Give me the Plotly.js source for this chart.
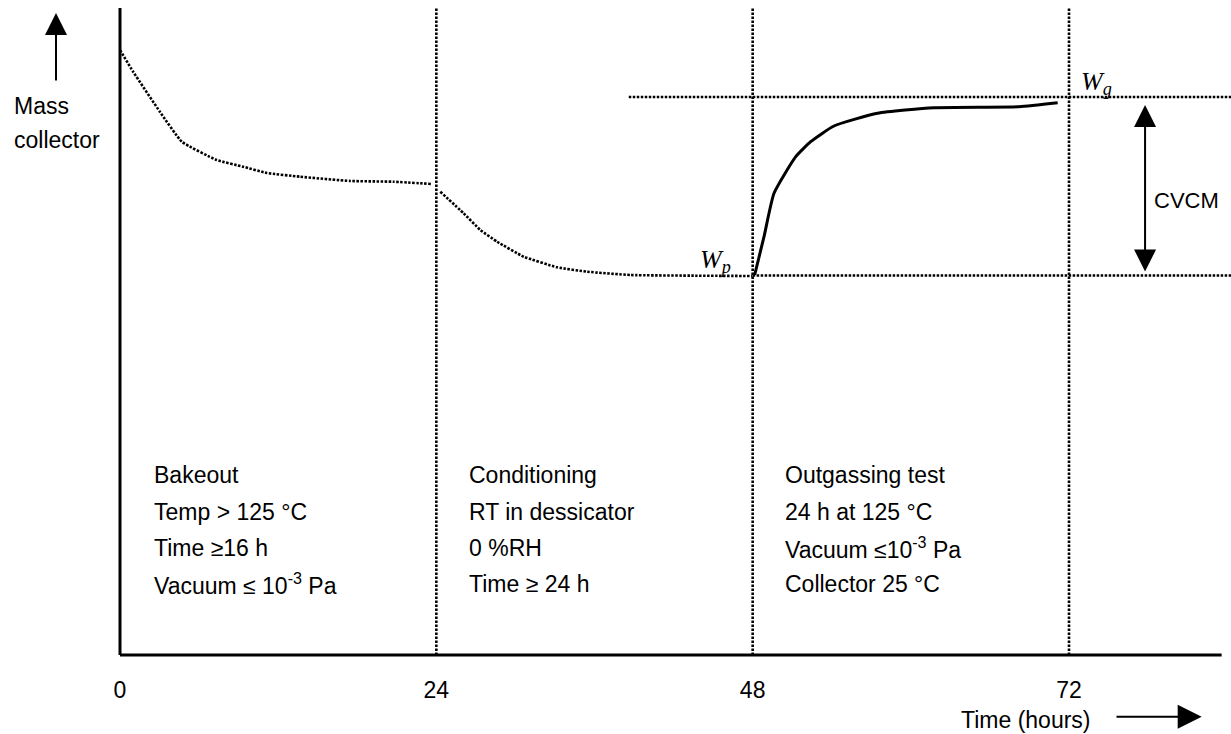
<!DOCTYPE html>
<html>
<head>
<meta charset="utf-8">
<script src="https://cdn.plot.ly/plotly-3.0.1.min.js"></script>
<style>html,body{margin:0;padding:0;background:#fff;}#chart{width:1231px;height:734px;}</style>
</head>
<body>
<div id="chart"></div>
<script>
// ---- data (time in hours, collector mass in arbitrary units) ----
const bakeT = [0, 1.01, 3.04, 4.69, 7.34, 9.34, 11.14, 13.66, 17.47, 20.73, 23.67];
const bakeM = [605, 583, 543, 513.3, 495, 488.3, 482, 478.3, 474, 473.3, 471];

const condT = [24.3, 26.07, 27.34, 28.61, 30.63, 33.17, 35.44, 38.73, 43.8, 47.98];
const condM = [463.3, 441.7, 425, 413.3, 398.3, 387.7, 383.3, 380, 379.3, 379];

const outT = [48.15, 48.86, 49.62, 51.27, 52.4, 54.17, 57.47, 61.77, 68.2, 71.14];
const outM = [380, 418.3, 461.7, 498.3, 513.3, 529, 541.7, 547.3, 548.3, 552.3];

const Wp = 379.5;           // mass after conditioning
const Wg = 558;             // mass after outgassing test
const wgStartT = 38.6;
const phaseBounds = [24, 48, 72];

const tickVals = [0, 24, 48, 72];
const tickText = ['0', '24', '48', '72'];

const bakeLines = ['Bakeout', 'Temp &gt; 125 °C', 'Time ≥16 h', 'Vacuum ≤ 10<sup>-3</sup> Pa'];
const condLines = ['Conditioning', 'RT in dessicator', '0 %RH', 'Time ≥ 24 h'];
const outLines  = ['Outgassing test', '24 h at 125 °C', 'Vacuum ≤10<sup>-3</sup> Pa', 'Collector 25 °C'];

// ---- layout constants ----
const X_MIN = -0.2276, X_MAX = 84.29, X_AXIS_END = 83.58;
const Y_MIN = -3, Y_MAX = 647;
const SANS = 'Liberation Sans, Arial, sans-serif';
const SERIF = 'Liberation Serif, Times New Roman, serif';
const BLACK = '#000';
const DOT = {color: BLACK, width: 2.6, dash: '2.5px,1.5px'};

const traces = [];
// axes lines
traces.push({x: [0, X_AXIS_END], y: [0, 0], mode: 'lines', line: {color: BLACK, width: 3}, hoverinfo: 'skip'});
traces.push({x: [0, 0], y: [0, Y_MAX], mode: 'lines', line: {color: BLACK, width: 3}, hoverinfo: 'skip'});
// phase dividers
phaseBounds.forEach(b => traces.push({x: [b, b], y: [0, Y_MAX], mode: 'lines', line: DOT, hoverinfo: 'skip'}));
// reference levels
traces.push({x: [48, X_MAX], y: [Wp, Wp], mode: 'lines', line: DOT, hoverinfo: 'skip'});
traces.push({x: [wgStartT, X_MAX], y: [Wg, Wg], mode: 'lines', line: DOT, hoverinfo: 'skip'});
// curves
traces.push({x: bakeT, y: bakeM, mode: 'lines', line: Object.assign({shape: 'spline', smoothing: 0.4}, DOT)});
traces.push({x: condT, y: condM, mode: 'lines', line: Object.assign({shape: 'spline', smoothing: 0.4}, DOT)});
traces.push({x: outT, y: outM, mode: 'lines', line: {color: BLACK, width: 3, shape: 'spline', smoothing: 0.5}});

const annotations = [];
const lineLevels = [180, 143.5, 107, 71];
const phaseLeft = [2.4, 26.33, 50.33];
[bakeLines, condLines, outLines].forEach((lines, p) => {
  lines.forEach((txt, i) => annotations.push({
    x: phaseLeft[p], y: lineLevels[i], xref: 'x', yref: 'y', text: txt, showarrow: false,
    xanchor: 'left', yanchor: 'middle', font: {family: SANS, size: 23, color: BLACK}
  }));
});
// y label
annotations.push({xref: 'paper', yref: 'paper', x: -0.0945, y: 0.849, text: 'Mass', showarrow: false,
  xanchor: 'left', yanchor: 'middle', font: {family: SANS, size: 23, color: BLACK}});
annotations.push({xref: 'paper', yref: 'paper', x: -0.0945, y: 0.797, text: 'collector', showarrow: false,
  xanchor: 'left', yanchor: 'middle', font: {family: SANS, size: 23, color: BLACK}});
annotations.push({xref: 'paper', yref: 'paper', x: -0.05476, y: 0.9923, text: '', showarrow: true,
  ax: 0, ay: 69, arrowhead: 2, arrowsize: 2.2, arrowwidth: 2, arrowcolor: BLACK});
// x label
annotations.push({xref: 'paper', yref: 'paper', x: 0.816, y: -0.096, text: 'Time (hours)', showarrow: false,
  xanchor: 'center', yanchor: 'middle', font: {family: SANS, size: 23, color: BLACK}});
annotations.push({xref: 'paper', yref: 'paper', x: 0.9737, y: -0.0903, text: '', showarrow: true,
  ax: -86.7, ay: 0, arrowhead: 2, arrowsize: 2.4, arrowwidth: 2, arrowcolor: BLACK});
// CVCM
annotations.push({xref: 'x', yref: 'y', x: 77.77, y: Wg - 8, axref: 'x', ayref: 'y', ax: 77.77, ay: Wp + 2.5,
  text: '', showarrow: true, arrowside: 'end+start', arrowhead: 2, startarrowhead: 2,
  arrowsize: 2.2, startarrowsize: 2.2, arrowwidth: 2, arrowcolor: BLACK});
annotations.push({xref: 'x', yref: 'y', x: 78.3, y: 455, text: 'CVCM', showarrow: false,
  xanchor: 'left', yanchor: 'middle', font: {family: SANS, size: 22, color: BLACK}});
// Wp, Wg
annotations.push({xref: 'x', yref: 'y', x: 45.2, y: 394, text: '<i>W<sub>p</sub></i>', showarrow: false,
  xanchor: 'center', yanchor: 'middle', font: {family: SERIF, size: 26, color: BLACK}});
annotations.push({xref: 'x', yref: 'y', x: 74.1, y: 572, text: '<i>W<sub>g</sub></i>', showarrow: false,
  xanchor: 'center', yanchor: 'middle', font: {family: SERIF, size: 26, color: BLACK}});

const layout = {
  width: 1231, height: 734,
  margin: {l: 117, r: 0, t: 8, b: 76, pad: 0},
  paper_bgcolor: '#fff', plot_bgcolor: '#fff',
  showlegend: false,
  xaxis: {range: [X_MIN, X_MAX], showgrid: false, zeroline: false, showline: false, ticks: '',
    tickvals: tickVals, ticktext: tickText, ticklabelstandoff: 16,
    tickfont: {family: SANS, size: 23, color: BLACK}, fixedrange: true},
  yaxis: {range: [Y_MIN, Y_MAX], showgrid: false, zeroline: false, showline: false, ticks: '',
    showticklabels: false, fixedrange: true},
  annotations: annotations
};

Plotly.newPlot('chart', traces, layout, {displayModeBar: false, staticPlot: true});
</script>
</body>
</html>
